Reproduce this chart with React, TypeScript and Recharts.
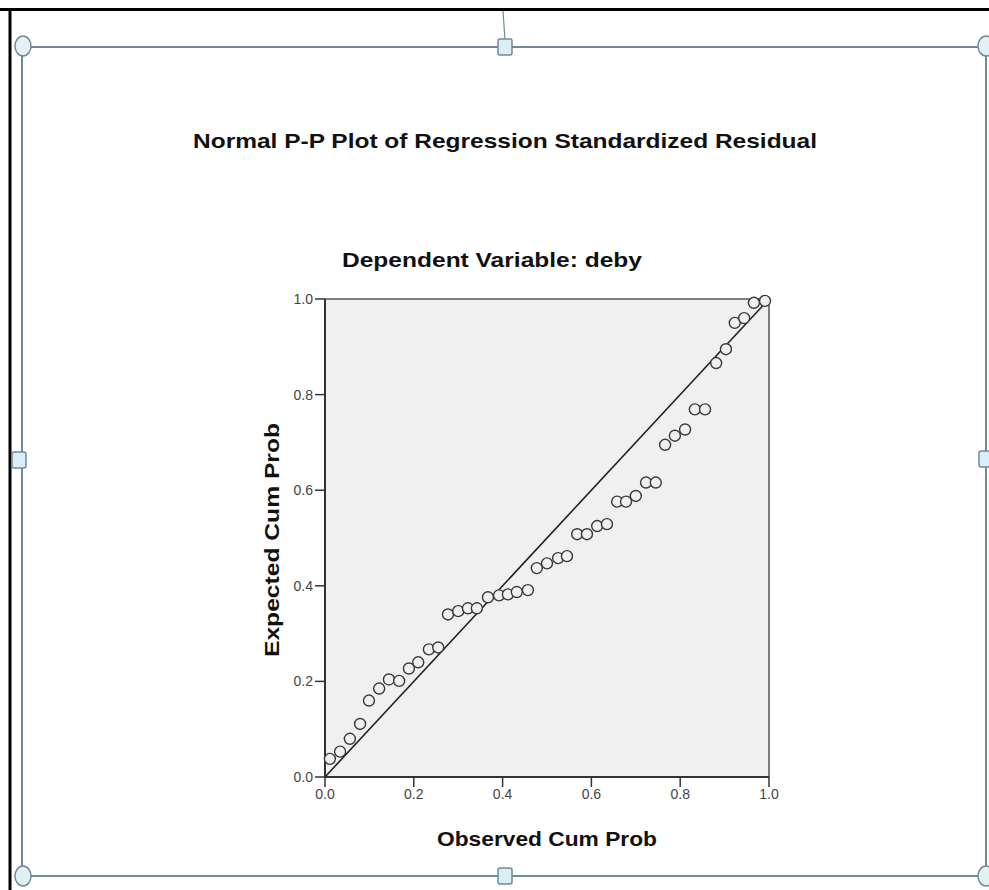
import React from 'react';
import {
  ComposedChart,
  Scatter,
  XAxis,
  YAxis,
  ReferenceArea,
  ReferenceLine,
} from 'recharts';

// observed cumulative probability (x) and expected cumulative probability (y)
const observed = [
  0.011, 0.034, 0.056, 0.079, 0.099, 0.122, 0.144, 0.167, 0.189, 0.21, 0.234, 0.255, 0.277, 0.3, 0.322,
  0.342, 0.367, 0.392, 0.412, 0.432, 0.457, 0.477, 0.5, 0.525, 0.545, 0.568, 0.59, 0.613, 0.635, 0.658,
  0.678, 0.7, 0.723, 0.745, 0.766, 0.788, 0.811, 0.833, 0.856, 0.881, 0.903, 0.923, 0.944, 0.966, 0.991,
];
const expected = [
  0.038, 0.053, 0.08, 0.111, 0.16, 0.185, 0.204, 0.201, 0.227, 0.24, 0.267, 0.271, 0.34, 0.347, 0.353,
  0.353, 0.376, 0.38, 0.382, 0.387, 0.391, 0.437, 0.447, 0.458, 0.462, 0.508, 0.508, 0.525, 0.529, 0.576,
  0.576, 0.588, 0.616, 0.616, 0.695, 0.714, 0.727, 0.769, 0.769, 0.866, 0.895, 0.95, 0.96, 0.992, 0.996,
];
const axisTicks = [0, 0.2, 0.4, 0.6, 0.8, 1.0];

const title = 'Normal P-P Plot of Regression Standardized Residual';
const subtitle = 'Dependent Variable: deby';
const xTitle = 'Observed Cum Prob';
const yTitle = 'Expected Cum Prob';

const points = observed.map((x, i) => ({ x, y: expected[i] }));

const FONT = '"Liberation Sans", Arial, sans-serif';
const FRAME = '#6f8c96';

const OpenCircle = (props: any) => (
  <circle cx={props.cx} cy={props.cy} r={5.5} fill="#f0f0f0" stroke="#3a3a3a" strokeWidth={1.4} />
);

const Handle = ({ x, y, square }: { x: number; y: number; square?: boolean }) =>
  square ? (
    <rect x={x - 7} y={y - 8} width={14} height={16} rx={2} fill="#d9eef6" stroke={FRAME} strokeWidth={1.5} />
  ) : (
    <ellipse cx={x} cy={y} rx={8} ry={10} fill="#e3f1f5" stroke={FRAME} strokeWidth={1.5} />
  );

export default function App() {
  return (
    <div style={{ position: 'absolute', left: 0, top: 0, width: 989, height: 890, background: '#fff' }}>
      <svg width={989} height={890} style={{ position: 'absolute', left: 0, top: 0 }}>
        {/* outer black border */}
        <line x1={0} y1={9.5} x2={989} y2={9.5} stroke="#000" strokeWidth={3} />
        <line x1={10} y1={9} x2={10} y2={890} stroke="#000" strokeWidth={3} />
        {/* selection frame */}
        <line x1={503} y1={11} x2={505} y2={40} stroke={FRAME} strokeWidth={1.2} />
        <rect x={22} y={47} width={964} height={829} fill="none" stroke={FRAME} strokeWidth={2} />
        <Handle x={23} y={46} />
        <Handle x={986} y={46} />
        <Handle x={23} y={876} />
        <Handle x={986} y={876} />
        <Handle x={505} y={47} square />
        <Handle x={505} y={876} square />
        <Handle x={19} y={460} square />
        <Handle x={986} y={459} square />
        {/* titles */}
        <g fontFamily={FONT} fontWeight="bold" fill="#111" textAnchor="middle">
          <text x={505} y={148} fontSize={21} textLength={624} lengthAdjust="spacingAndGlyphs">{title}</text>
          <text x={492} y={267} fontSize={21} textLength={300} lengthAdjust="spacingAndGlyphs">{subtitle}</text>
          <text x={547} y={846} fontSize={20} textLength={220} lengthAdjust="spacingAndGlyphs">{xTitle}</text>
          <text
            x={272}
            y={540}
            fontSize={20}
            dy={7}
            textLength={234}
            lengthAdjust="spacingAndGlyphs"
            transform="rotate(-90 272 540)"
          >
            {yTitle}
          </text>
        </g>
      </svg>
      <div style={{ position: 'absolute', left: 0, top: 0 }}>
        <ComposedChart
          width={989}
          height={890}
          data={points}
          margin={{ top: 299, right: 220, bottom: 83, left: 295 }}
        >
          <XAxis
            type="number"
            dataKey="x"
            domain={[0, 1]}
            ticks={axisTicks}
            tickFormatter={(v: number) => v.toFixed(1)}
            height={30}
            tickSize={10}
            axisLine={{ stroke: '#333', strokeWidth: 2 }}
            tickLine={{ stroke: '#333', strokeWidth: 1.5 }}
            tick={{ fontSize: 14, fill: '#444', fontFamily: FONT }}
          />
          <YAxis
            type="number"
            dataKey="y"
            domain={[0, 1]}
            ticks={axisTicks}
            tickFormatter={(v: number) => v.toFixed(1)}
            width={30}
            tickSize={10}
            axisLine={{ stroke: '#333', strokeWidth: 2 }}
            tickLine={{ stroke: '#333', strokeWidth: 1.5 }}
            tick={{ fontSize: 14, fill: '#444', fontFamily: FONT }}
          />
          <ReferenceArea
            x1={0}
            x2={1}
            y1={0}
            y2={1}
            fill="#f0f0f0"
            fillOpacity={1}
            stroke="#555"
            strokeWidth={1.5}
          />
          <ReferenceLine
            segment={[{ x: 0, y: 0 }, { x: 1, y: 1 }]}
            stroke="#222"
            strokeWidth={1.6}
          />
          <Scatter dataKey="y" shape={OpenCircle} isAnimationActive={false} />
        </ComposedChart>
      </div>
    </div>
  );
}
